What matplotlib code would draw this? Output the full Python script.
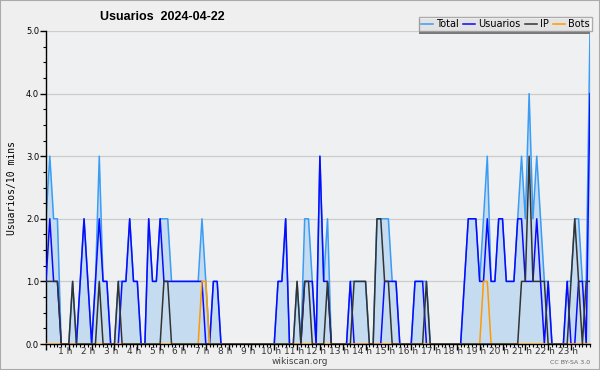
import numpy as np
import matplotlib
matplotlib.use("Agg")
from matplotlib import pyplot as plt
from matplotlib.patches import Rectangle

# 10-minute slots, 2024-04-22
usuarios = [1, 2, 1, 1, 0, 0, 0, 0, 0, 1, 2, 1, 0, 1, 2, 1, 1, 0, 0, 0, 1, 1, 2, 1,
            1, 0, 0, 2, 1, 1, 2, 1, 1, 1, 1, 1, 1, 1, 1, 1, 1, 1, 0, 0, 1, 1, 0, 0,
            0, 0, 0, 0, 0, 0, 0, 0, 0, 0, 0, 0, 0, 1, 1, 2, 0, 0, 0, 0, 1, 1, 1, 0,
            3, 1, 1, 0, 0, 0, 0, 0, 1, 0, 0, 0, 0, 0, 0, 0, 0, 1, 1, 1, 1, 0, 0, 0,
            0, 1, 1, 1, 0, 0, 0, 0, 0, 0, 0, 0, 0, 0, 1, 2, 2, 2, 1, 1, 2, 1, 1, 2,
            2, 1, 1, 1, 2, 2, 1, 1, 1, 2, 1, 0, 1, 0, 0, 0, 0, 1, 0, 0, 1, 1, 0, 4]
ip = [1, 1, 1, 1, 0, 0, 0, 1, 0, 0, 0, 0, 0, 0, 1, 0, 0, 0, 0, 1, 0, 0, 0, 0,
      0, 0, 0, 0, 0, 0, 0, 1, 1, 0, 0, 0, 0, 0, 0, 0, 0, 0, 0, 0, 0, 0, 0, 0,
      0, 0, 0, 0, 0, 0, 0, 0, 0, 0, 0, 0, 0, 0, 0, 0, 0, 0, 1, 0, 1, 1, 0, 0,
      0, 0, 1, 0, 0, 0, 0, 0, 0, 1, 1, 1, 1, 0, 0, 2, 2, 1, 1, 0, 0, 0, 0, 0,
      0, 0, 0, 0, 1, 0, 0, 0, 0, 0, 0, 0, 0, 0, 0, 0, 0, 0, 0, 0, 0, 0, 0, 0,
      0, 0, 0, 0, 0, 1, 1, 3, 1, 1, 1, 1, 0, 0, 0, 0, 0, 0, 1, 2, 1, 0, 1, 1]
bots = [0] * 144
for k in (41, 42, 115, 116):
    bots[k] = 1
hours = list(range(1, 24))

u = np.array(usuarios)
p = np.array(ip)
b = np.array(bots)
total = u + p + b
x = np.arange(len(total))

fig = plt.figure(figsize=(6, 3.7), dpi=100, facecolor="#efefef")
ax = fig.add_axes([46 / 600, 1 - 344 / 370, 544 / 600, 313 / 370])
ax.set_facecolor("#eef0f2")

ax.fill_between(x, total, color="#c5dcf0", lw=0, zorder=1)
ax.plot(x, total, color="#3a9cf5", lw=1.1, label="Total", zorder=2)
ax.plot(x, u, color="#0a0aff", lw=1.1, label="Usuarios", zorder=3)
ax.plot(x, p, color="#333333", lw=1.1, label="IP", zorder=4)
ax.plot(x, b, color="#ff9900", lw=1.1, label="Bots", zorder=3.5)

ax.set_xlim(0, 143)
ax.set_ylim(0, 5)
ax.set_yticks(np.arange(0, 5.01, 1))
ax.set_yticklabels(["%.1f" % v for v in range(6)], fontsize=6)
ax.set_yticks(np.arange(0, 5.01, 0.25), minor=True)
ax.yaxis.grid(True, color="#cccccc", lw=0.9)
ax.set_axisbelow(True)
ax.set_xticks([h * 6 for h in range(24)])
ax.set_xticklabels([])
ax.set_xticks(np.arange(0, 144), minor=True)
ax.tick_params(axis="both", which="major", length=4, width=1, color="black", pad=1)
ax.tick_params(axis="both", which="minor", length=2.5, width=0.8, color="black")
for h in hours:
    ax.text(h * 6 - 0.9, -0.01, "%d h" % h, transform=ax.get_xaxis_transform(),
            ha="center", va="top", fontsize=6.5, color="#333333")

for s in ("top", "right"):
    ax.spines[s].set_visible(False)
ax.spines["left"].set_linewidth(1)
ax.spines["bottom"].set_linewidth(1)

ax.set_ylabel("Usuarios/10 mins", family="DejaVu Sans Mono", fontsize=7, labelpad=6)
fig.text(162 / 600, 1 - 17 / 370, "Usuarios  2024-04-22", fontsize=9,
         family=["Liberation Sans Narrow", "Liberation Sans", "DejaVu Sans"],
         fontweight="bold", ha="center", va="center")
fig.text(300 / 600, 1 - 362 / 370, "wikiscan.org", fontsize=6.5, ha="center",
         va="center", color="#444444")
fig.text(590 / 600, 1 - 362 / 370, "CC BY-SA 3.0", fontsize=4.5, ha="right",
         va="center", color="#666666")

# legend shadow and box
ax.add_patch(Rectangle((419 / 600, 1 - 34 / 370), 171 / 600, 15 / 370,
                       transform=fig.transFigure, color="#777777", lw=0,
                       clip_on=False, zorder=6))
leg = ax.legend(loc="upper right", bbox_to_anchor=(592 / 600, 1 - 17 / 370),
                bbox_transform=fig.transFigure, ncol=4, fontsize=7,
                frameon=True, fancybox=False, handlelength=1.2,
                handletextpad=0.35, columnspacing=0.45, borderpad=0.2,
                borderaxespad=0)
leg.get_frame().set_edgecolor("#999999")
leg.get_frame().set_linewidth(1)
leg.set_zorder(7)

fig.add_artist(Rectangle((0, 0), 1, 1, transform=fig.transFigure, fill=False,
                         edgecolor="#aaaaaa", lw=1.5))

fig.savefig("out.png", dpi=100, facecolor=fig.get_facecolor())
